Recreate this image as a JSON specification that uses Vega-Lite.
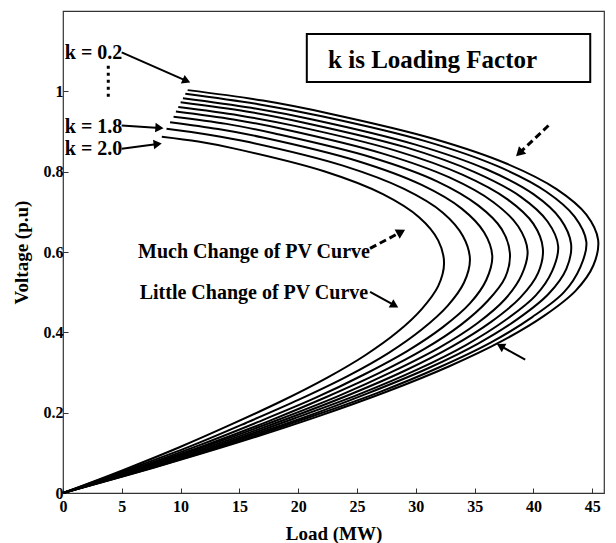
{
  "$schema": "https://vega.github.io/schema/vega-lite/v6.json",
  "width": 541,
  "height": 482,
  "autosize": {"type": "none"},
  "padding": {"left": 63, "top": 11, "right": 12, "bottom": 50},
  "background": "white",
  "config": {
    "view": {"stroke": "#333", "strokeWidth": 1.2},
    "axis": {
      "grid": false,
      "domain": false,
      "tickColor": "#333",
      "tickSize": -5,
      "labelFont": "Liberation Serif",
      "labelFontWeight": "bold",
      "labelFontSize": 16,
      "labelColor": "black",
      "titleFont": "Liberation Serif",
      "titleFontWeight": "bold",
      "titleFontSize": 19,
      "titleColor": "black"
    }
  },
  "datasets": {
    "curves": [
      {"k":"0.2","i":0,"p":10.6,"v":1.003},{"k":"0.2","i":1,"p":17.0,"v":0.977},{"k":"0.2","i":2,"p":22.6,"v":0.945},{"k":"0.2","i":3,"p":31.5,"v":0.882},{"k":"0.2","i":4,"p":37.8,"v":0.819},{"k":"0.2","i":5,"p":42.0,"v":0.756},{"k":"0.2","i":6,"p":44.5,"v":0.693},{"k":"0.2","i":7,"p":45.5,"v":0.630},{"k":"0.2","i":8,"p":45.1,"v":0.567},{"k":"0.2","i":9,"p":43.6,"v":0.504},{"k":"0.2","i":10,"p":40.9,"v":0.441},{"k":"0.2","i":11,"p":37.3,"v":0.378},{"k":"0.2","i":12,"p":32.8,"v":0.315},{"k":"0.2","i":13,"p":27.5,"v":0.252},{"k":"0.2","i":14,"p":21.5,"v":0.189},{"k":"0.2","i":15,"p":14.9,"v":0.126},{"k":"0.2","i":16,"p":7.7,"v":0.063},{"k":"0.2","i":17,"p":0,"v":0},
      {"k":"0.4","i":0,"p":10.4,"v":0.994},{"k":"0.4","i":1,"p":16.6,"v":0.968},{"k":"0.4","i":2,"p":22.0,"v":0.938},{"k":"0.4","i":3,"p":30.8,"v":0.876},{"k":"0.4","i":4,"p":37.0,"v":0.813},{"k":"0.4","i":5,"p":41.1,"v":0.750},{"k":"0.4","i":6,"p":43.5,"v":0.688},{"k":"0.4","i":7,"p":44.5,"v":0.625},{"k":"0.4","i":8,"p":44.0,"v":0.563},{"k":"0.4","i":9,"p":42.6,"v":0.500},{"k":"0.4","i":10,"p":39.9,"v":0.438},{"k":"0.4","i":11,"p":36.4,"v":0.375},{"k":"0.4","i":12,"p":32.0,"v":0.313},{"k":"0.4","i":13,"p":26.8,"v":0.250},{"k":"0.4","i":14,"p":20.9,"v":0.188},{"k":"0.4","i":15,"p":14.5,"v":0.125},{"k":"0.4","i":16,"p":7.5,"v":0.062},{"k":"0.4","i":17,"p":0,"v":0},
      {"k":"0.6","i":0,"p":10.2,"v":0.983},{"k":"0.6","i":1,"p":16.0,"v":0.959},{"k":"0.6","i":2,"p":21.2,"v":0.930},{"k":"0.6","i":3,"p":29.9,"v":0.868},{"k":"0.6","i":4,"p":36.0,"v":0.806},{"k":"0.6","i":5,"p":40.0,"v":0.744},{"k":"0.6","i":6,"p":42.3,"v":0.682},{"k":"0.6","i":7,"p":43.2,"v":0.620},{"k":"0.6","i":8,"p":42.8,"v":0.558},{"k":"0.6","i":9,"p":41.3,"v":0.496},{"k":"0.6","i":10,"p":38.7,"v":0.434},{"k":"0.6","i":11,"p":35.3,"v":0.372},{"k":"0.6","i":12,"p":31.0,"v":0.310},{"k":"0.6","i":13,"p":25.9,"v":0.248},{"k":"0.6","i":14,"p":20.3,"v":0.186},{"k":"0.6","i":15,"p":14.0,"v":0.124},{"k":"0.6","i":16,"p":7.3,"v":0.062},{"k":"0.6","i":17,"p":0,"v":0},
      {"k":"0.8","i":0,"p":10.0,"v":0.973},{"k":"0.8","i":1,"p":15.6,"v":0.950},{"k":"0.8","i":2,"p":20.5,"v":0.922},{"k":"0.8","i":3,"p":29.1,"v":0.861},{"k":"0.8","i":4,"p":35.0,"v":0.799},{"k":"0.8","i":5,"p":38.9,"v":0.738},{"k":"0.8","i":6,"p":41.2,"v":0.676},{"k":"0.8","i":7,"p":42.1,"v":0.615},{"k":"0.8","i":8,"p":41.6,"v":0.553},{"k":"0.8","i":9,"p":40.2,"v":0.492},{"k":"0.8","i":10,"p":37.6,"v":0.430},{"k":"0.8","i":11,"p":34.3,"v":0.369},{"k":"0.8","i":12,"p":30.1,"v":0.307},{"k":"0.8","i":13,"p":25.2,"v":0.246},{"k":"0.8","i":14,"p":19.6,"v":0.185},{"k":"0.8","i":15,"p":13.6,"v":0.123},{"k":"0.8","i":16,"p":7.0,"v":0.061},{"k":"0.8","i":17,"p":0,"v":0},
      {"k":"1.0","i":0,"p":9.8,"v":0.961},{"k":"1.0","i":1,"p":15.0,"v":0.940},{"k":"1.0","i":2,"p":19.7,"v":0.914},{"k":"1.0","i":3,"p":28.2,"v":0.853},{"k":"1.0","i":4,"p":34.0,"v":0.792},{"k":"1.0","i":5,"p":37.8,"v":0.731},{"k":"1.0","i":6,"p":40.0,"v":0.670},{"k":"1.0","i":7,"p":40.8,"v":0.609},{"k":"1.0","i":8,"p":40.4,"v":0.548},{"k":"1.0","i":9,"p":38.9,"v":0.487},{"k":"1.0","i":10,"p":36.4,"v":0.426},{"k":"1.0","i":11,"p":33.1,"v":0.365},{"k":"1.0","i":12,"p":29.1,"v":0.305},{"k":"1.0","i":13,"p":24.3,"v":0.244},{"k":"1.0","i":14,"p":18.9,"v":0.183},{"k":"1.0","i":15,"p":13.1,"v":0.122},{"k":"1.0","i":16,"p":6.8,"v":0.061},{"k":"1.0","i":17,"p":0,"v":0},
      {"k":"1.2","i":0,"p":9.6,"v":0.950},{"k":"1.2","i":1,"p":14.5,"v":0.930},{"k":"1.2","i":2,"p":18.9,"v":0.905},{"k":"1.2","i":3,"p":27.2,"v":0.845},{"k":"1.2","i":4,"p":32.9,"v":0.785},{"k":"1.2","i":5,"p":36.6,"v":0.724},{"k":"1.2","i":6,"p":38.7,"v":0.664},{"k":"1.2","i":7,"p":39.5,"v":0.603},{"k":"1.2","i":8,"p":39.0,"v":0.543},{"k":"1.2","i":9,"p":37.6,"v":0.483},{"k":"1.2","i":10,"p":35.2,"v":0.422},{"k":"1.2","i":11,"p":32.0,"v":0.362},{"k":"1.2","i":12,"p":28.0,"v":0.302},{"k":"1.2","i":13,"p":23.4,"v":0.241},{"k":"1.2","i":14,"p":18.2,"v":0.181},{"k":"1.2","i":15,"p":12.6,"v":0.121},{"k":"1.2","i":16,"p":6.5,"v":0.060},{"k":"1.2","i":17,"p":0,"v":0},
      {"k":"1.4","i":0,"p":9.4,"v":0.937},{"k":"1.4","i":1,"p":13.9,"v":0.919},{"k":"1.4","i":2,"p":18.0,"v":0.895},{"k":"1.4","i":3,"p":26.2,"v":0.836},{"k":"1.4","i":4,"p":31.8,"v":0.776},{"k":"1.4","i":5,"p":35.3,"v":0.716},{"k":"1.4","i":6,"p":37.3,"v":0.657},{"k":"1.4","i":7,"p":38.0,"v":0.597},{"k":"1.4","i":8,"p":37.6,"v":0.537},{"k":"1.4","i":9,"p":36.1,"v":0.478},{"k":"1.4","i":10,"p":33.8,"v":0.418},{"k":"1.4","i":11,"p":30.7,"v":0.358},{"k":"1.4","i":12,"p":26.9,"v":0.299},{"k":"1.4","i":13,"p":22.4,"v":0.239},{"k":"1.4","i":14,"p":17.5,"v":0.179},{"k":"1.4","i":15,"p":12.1,"v":0.119},{"k":"1.4","i":16,"p":6.2,"v":0.060},{"k":"1.4","i":17,"p":0,"v":0},
      {"k":"1.6","i":0,"p":9.1,"v":0.923},{"k":"1.6","i":1,"p":13.2,"v":0.906},{"k":"1.6","i":2,"p":17.0,"v":0.885},{"k":"1.6","i":3,"p":25.1,"v":0.826},{"k":"1.6","i":4,"p":30.5,"v":0.767},{"k":"1.6","i":5,"p":33.9,"v":0.708},{"k":"1.6","i":6,"p":35.8,"v":0.649},{"k":"1.6","i":7,"p":36.5,"v":0.590},{"k":"1.6","i":8,"p":36.0,"v":0.531},{"k":"1.6","i":9,"p":34.6,"v":0.472},{"k":"1.6","i":10,"p":32.3,"v":0.413},{"k":"1.6","i":11,"p":29.3,"v":0.354},{"k":"1.6","i":12,"p":25.6,"v":0.295},{"k":"1.6","i":13,"p":21.4,"v":0.236},{"k":"1.6","i":14,"p":16.6,"v":0.177},{"k":"1.6","i":15,"p":11.5,"v":0.118},{"k":"1.6","i":16,"p":5.9,"v":0.059},{"k":"1.6","i":17,"p":0,"v":0},
      {"k":"1.8","i":0,"p":8.8,"v":0.907},{"k":"1.8","i":1,"p":12.4,"v":0.892},{"k":"1.8","i":2,"p":15.9,"v":0.873},{"k":"1.8","i":3,"p":23.8,"v":0.815},{"k":"1.8","i":4,"p":29.0,"v":0.757},{"k":"1.8","i":5,"p":32.3,"v":0.698},{"k":"1.8","i":6,"p":34.0,"v":0.640},{"k":"1.8","i":7,"p":34.6,"v":0.582},{"k":"1.8","i":8,"p":34.1,"v":0.524},{"k":"1.8","i":9,"p":32.7,"v":0.466},{"k":"1.8","i":10,"p":30.5,"v":0.407},{"k":"1.8","i":11,"p":27.7,"v":0.349},{"k":"1.8","i":12,"p":24.2,"v":0.291},{"k":"1.8","i":13,"p":20.1,"v":0.233},{"k":"1.8","i":14,"p":15.6,"v":0.175},{"k":"1.8","i":15,"p":10.8,"v":0.116},{"k":"1.8","i":16,"p":5.5,"v":0.058},{"k":"1.8","i":17,"p":0,"v":0},
      {"k":"2.0","i":0,"p":8.4,"v":0.887},{"k":"2.0","i":1,"p":11.5,"v":0.875},{"k":"2.0","i":2,"p":14.5,"v":0.858},{"k":"2.0","i":3,"p":22.2,"v":0.801},{"k":"2.0","i":4,"p":27.2,"v":0.744},{"k":"2.0","i":5,"p":30.3,"v":0.686},{"k":"2.0","i":6,"p":31.9,"v":0.629},{"k":"2.0","i":7,"p":32.4,"v":0.572},{"k":"2.0","i":8,"p":31.9,"v":0.515},{"k":"2.0","i":9,"p":30.5,"v":0.458},{"k":"2.0","i":10,"p":28.4,"v":0.400},{"k":"2.0","i":11,"p":25.7,"v":0.343},{"k":"2.0","i":12,"p":22.4,"v":0.286},{"k":"2.0","i":13,"p":18.6,"v":0.229},{"k":"2.0","i":14,"p":14.4,"v":0.172},{"k":"2.0","i":15,"p":9.9,"v":0.114},{"k":"2.0","i":16,"p":5.1,"v":0.057},{"k":"2.0","i":17,"p":0,"v":0}
    ],
    "box": [{"p": 20.73, "v": 1.023, "p2": 44.83, "v2": 1.143}],
    "boxText": [{"t": "k is Loading Factor", "p": 22.54, "v": 1.077}],
    "kLabels": [
      {"t": "k = 0.2", "p": 0.15, "v": 1.095},
      {"t": "k = 1.8", "p": 0.15, "v": 0.911},
      {"t": "k = 2.0", "p": 0.15, "v": 0.856}
    ],
    "notes": [
      {"t": "Much Change of PV Curve", "p": 26.1, "v": 0.600},
      {"t": "Little Change of PV Curve", "p": 25.95, "v": 0.497}
    ],
    "dots": [{"p": 3.85, "v": 1.064, "p2": 3.85, "v2": 0.977}],
    "solidArrows": [
      {"id": 1, "p": 4.99, "v": 1.097, "p2": 10.5, "v2": 1.026},
      {"id": 2, "p": 4.99, "v": 0.915, "p2": 8.2, "v2": 0.909},
      {"id": 3, "p": 4.99, "v": 0.857, "p2": 8.05, "v2": 0.869},
      {"id": 6, "p": 26.11, "v": 0.501, "p2": 28.2, "v2": 0.467},
      {"id": 7, "p": 39.3, "v": 0.332, "p2": 37.2, "v2": 0.366}
    ],
    "dashedArrows": [
      {"id": 4, "p": 41.28, "v": 0.915, "p2": 38.8, "v2": 0.846},
      {"id": 5, "p": 26.11, "v": 0.609, "p2": 28.75, "v2": 0.650}
    ]
  },
  "layer": [
    {
      "data": {"name": "curves"},
      "mark": {"type": "line", "color": "black", "strokeWidth": 2, "interpolate": "catmull-rom"},
      "encoding": {
        "x": {
          "field": "p", "type": "quantitative",
          "scale": {"domain": [0, 46], "nice": false, "zero": false},
          "axis": {"title": "Load (MW)", "values": [0, 5, 10, 15, 20, 25, 30, 35, 40, 45], "labelPadding": 10, "titlePadding": 10, "labelFlush": false}
        },
        "y": {
          "field": "v", "type": "quantitative",
          "scale": {"domain": [0, 1.2], "nice": false, "zero": false},
          "axis": {"title": "Voltage (p.u)", "values": [0, 0.2, 0.4, 0.6, 0.8, 1], "format": "~g", "labelPadding": 5, "titlePadding": 12, "labelFlush": false}
        },
        "detail": {"field": "k", "type": "nominal"},
        "order": {"field": "i", "type": "quantitative"}
      }
    },
    {
      "data": {"name": "box"},
      "mark": {"type": "rect", "fill": "white", "stroke": "black", "strokeWidth": 2},
      "encoding": {
        "x": {"field": "p", "type": "quantitative"},
        "x2": {"field": "p2"},
        "y": {"field": "v", "type": "quantitative"},
        "y2": {"field": "v2"}
      }
    },
    {
      "data": {"name": "boxText"},
      "mark": {"type": "text", "font": "Liberation Serif", "fontWeight": "bold", "fontSize": 25, "align": "left", "baseline": "middle", "color": "black"},
      "encoding": {
        "x": {"field": "p", "type": "quantitative"},
        "y": {"field": "v", "type": "quantitative"},
        "text": {"field": "t"}
      }
    },
    {
      "data": {"name": "kLabels"},
      "mark": {"type": "text", "font": "Liberation Serif", "fontWeight": "bold", "fontSize": 20, "align": "left", "baseline": "middle", "color": "black"},
      "encoding": {
        "x": {"field": "p", "type": "quantitative"},
        "y": {"field": "v", "type": "quantitative"},
        "text": {"field": "t"}
      }
    },
    {
      "data": {"name": "notes"},
      "mark": {"type": "text", "font": "Liberation Serif", "fontWeight": "bold", "fontSize": 20, "align": "right", "baseline": "middle", "color": "black"},
      "encoding": {
        "x": {"field": "p", "type": "quantitative"},
        "y": {"field": "v", "type": "quantitative"},
        "text": {"field": "t"}
      }
    },
    {
      "data": {"name": "dots"},
      "mark": {"type": "rule", "color": "black", "strokeWidth": 3, "strokeDash": [3, 4]},
      "encoding": {
        "x": {"field": "p", "type": "quantitative"},
        "y": {"field": "v", "type": "quantitative"},
        "x2": {"field": "p2"},
        "y2": {"field": "v2"}
      }
    },
    {
      "data": {"name": "solidArrows"},
      "mark": {"type": "rule", "color": "black", "strokeWidth": 2},
      "encoding": {
        "x": {"field": "p", "type": "quantitative"},
        "y": {"field": "v", "type": "quantitative"},
        "x2": {"field": "p2"},
        "y2": {"field": "v2"}
      }
    },
    {
      "data": {"name": "dashedArrows"},
      "mark": {"type": "rule", "color": "black", "strokeWidth": 3, "strokeDash": [7, 4]},
      "encoding": {
        "x": {"field": "p", "type": "quantitative"},
        "y": {"field": "v", "type": "quantitative"},
        "x2": {"field": "p2"},
        "y2": {"field": "v2"}
      }
    },
    {
      "data": {"name": "solidArrows"},
      "transform": [{"filter": "datum.id == 1"}],
      "mark": {"type": "point", "shape": "triangle-right", "filled": true, "color": "black", "size": 90, "opacity": 1, "angle": 24},
      "encoding": {"x": {"field": "p2", "type": "quantitative"}, "y": {"field": "v2", "type": "quantitative"}}
    },
    {
      "data": {"name": "solidArrows"},
      "transform": [{"filter": "datum.id == 2"}],
      "mark": {"type": "point", "shape": "triangle-right", "filled": true, "color": "black", "size": 90, "opacity": 1, "angle": 4},
      "encoding": {"x": {"field": "p2", "type": "quantitative"}, "y": {"field": "v2", "type": "quantitative"}}
    },
    {
      "data": {"name": "solidArrows"},
      "transform": [{"filter": "datum.id == 3"}],
      "mark": {"type": "point", "shape": "triangle-right", "filled": true, "color": "black", "size": 90, "opacity": 1, "angle": -7},
      "encoding": {"x": {"field": "p2", "type": "quantitative"}, "y": {"field": "v2", "type": "quantitative"}}
    },
    {
      "data": {"name": "solidArrows"},
      "transform": [{"filter": "datum.id == 6"}],
      "mark": {"type": "point", "shape": "triangle-right", "filled": true, "color": "black", "size": 90, "opacity": 1, "angle": 29},
      "encoding": {"x": {"field": "p2", "type": "quantitative"}, "y": {"field": "v2", "type": "quantitative"}}
    },
    {
      "data": {"name": "solidArrows"},
      "transform": [{"filter": "datum.id == 7"}],
      "mark": {"type": "point", "shape": "triangle-right", "filled": true, "color": "black", "size": 90, "opacity": 1, "angle": 209},
      "encoding": {"x": {"field": "p2", "type": "quantitative"}, "y": {"field": "v2", "type": "quantitative"}}
    },
    {
      "data": {"name": "dashedArrows"},
      "transform": [{"filter": "datum.id == 4"}],
      "mark": {"type": "point", "shape": "triangle-right", "filled": true, "color": "black", "size": 110, "opacity": 1, "angle": 136},
      "encoding": {"x": {"field": "p2", "type": "quantitative"}, "y": {"field": "v2", "type": "quantitative"}}
    },
    {
      "data": {"name": "dashedArrows"},
      "transform": [{"filter": "datum.id == 5"}],
      "mark": {"type": "point", "shape": "triangle-right", "filled": true, "color": "black", "size": 110, "opacity": 1, "angle": -29},
      "encoding": {"x": {"field": "p2", "type": "quantitative"}, "y": {"field": "v2", "type": "quantitative"}}
    }
  ]
}
